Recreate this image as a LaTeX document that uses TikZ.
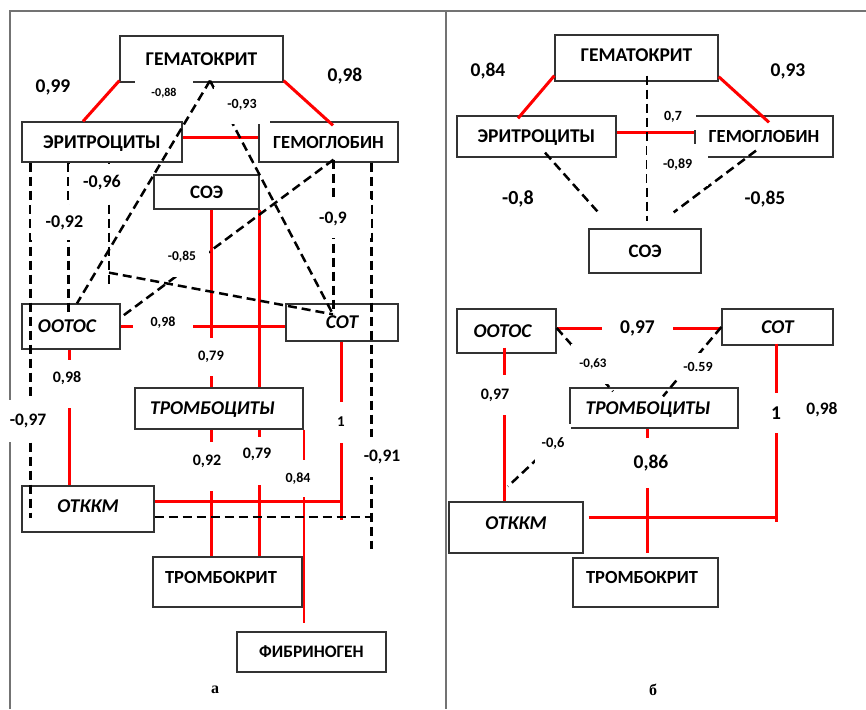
\documentclass[tikz,border=0pt]{standalone}
\usepackage{fontspec}
\setmainfont{Carlito}
\newfontfamily\capfont{Liberation Serif}
\begin{document}
\begin{tikzpicture}[x=1pt,y=-1pt,
  box/.style={draw=black!80,line width=1.3pt,inner sep=0pt,text depth=0pt,font=\bfseries\fontsize{#1}{#1}\selectfont},
  box/.default=19.5,
  ibox/.style={box=#1,font=\bfseries\itshape\fontsize{#1}{#1}\selectfont},
  ibox/.default=19.5,
  rl/.style={red,line width=3pt},
  dl/.style={black,line width=2.5pt,dash pattern=on 9pt off 5pt},
  lbl/.style={fill=white,inner sep=0pt,font=\bfseries\fontsize{#1}{#1}\selectfont},
  lbl/.default=15,
  frame/.style={black!55,line width=1.6pt}]
\useasboundingbox (0,0) rectangle (866,709);
\draw[frame] (10,709) -- (10,11) -- (866,11);
\draw[frame] (446,11) -- (446,709);

\node[box,minimum width=163pt,minimum height=46pt] (gkL) at (201.5,59) {ГЕМАТОКРИТ};
\node[box,minimum width=160pt,minimum height=40pt] (erL) at (102,142) {ЭРИТРОЦИТЫ};
\node[box=18.5,minimum width=139pt,minimum height=40pt] (hbL) at (328.5,142) {ГЕМОГЛОБИН};
\node[box=19,minimum width=105pt,minimum height=34pt] (soeL) at (206.5,192) {СОЭ};
\node[ibox,minimum width=98pt,minimum height=45pt] (ooL) at (71,326.5) {\hspace*{-8pt}ООТОС};
\node[ibox,minimum width=112pt,minimum height=37pt] (soL) at (342,322.5) {СОТ};
\node[ibox,minimum width=168pt,minimum height=41pt] (tbL) at (219,408.5) {\hspace*{-13pt}ТРОМБОЦИТЫ};
\node[ibox,minimum width=132pt,minimum height=46pt,text depth=6pt] (otL) at (88,509) {ОТККМ};
\node[box=18.5,minimum width=149pt,minimum height=50pt,text depth=10pt] (tkL) at (227.5,582) {\hspace*{-13pt}ТРОМБОКРИТ};
\node[box=17.5,minimum width=149pt,minimum height=40pt] (fbL) at (311.5,652) {ФИБРИНОГЕН};

\node[box,minimum width=163pt,minimum height=46pt,text depth=6pt] (gkR) at (636.5,58) {ГЕМАТОКРИТ};
\node[box,minimum width=159pt,minimum height=41pt] (erR) at (536.5,136.5) {ЭРИТРОЦИТЫ};
\node[box=18.5,minimum width=138pt,minimum height=41pt] (hbR) at (764,136.5) {ГЕМОГЛОБИН};
\node[box=19,minimum width=112pt,minimum height=44pt] (soeR) at (645,251) {СОЭ};
\node[ibox,minimum width=99pt,minimum height=44pt] (ooR) at (506.5,331) {\hspace*{-8pt}ООТОС};
\node[ibox,minimum width=111pt,minimum height=36pt] (soR) at (777.5,327) {СОТ};
\node[ibox,minimum width=168pt,minimum height=40pt] (tbR) at (654,408) {\hspace*{-12pt}ТРОМБОЦИТЫ};
\node[ibox,minimum width=134pt,minimum height=51pt,text depth=9pt] (otR) at (516,527.5) {ОТККМ};
\node[box=18.5,minimum width=145pt,minimum height=49pt,text depth=11pt] (tkR) at (645.5,582.5) {\hspace*{-7pt}ТРОМБОКРИТ};

\coordinate (sotFoot) at ([xshift=-1pt]soL.south);
\draw[rl] ([yshift=2pt]gkL.south west) -- ([xshift=-19pt]erL.north);
\draw[rl] ([yshift=2pt]gkL.south east) -- ([xshift=4.5pt,yshift=-4pt]hbL.north);
\draw[rl] ([yshift=5pt]erL.east) -- ([yshift=5pt]hbL.west);
\draw[rl] (ooL.east) -- (ooL.east -| soL.west);
\draw[rl] ([xshift=-2pt]ooL.south) -- ([xshift=-2pt]ooL.south |- otL.north);
\draw[rl] ([xshift=4.5pt]soeL.south) -- ([xshift=4.5pt]soeL.south |- tbL.north);
\draw[rl] (soeL.south east) -- (soeL.south east |- tbL.north);
\draw[rl] ([xshift=-8pt]tbL.south) -- ([xshift=-8pt]tbL.south |- tkL.north);
\draw[rl] ([xshift=40pt]tbL.south) -- ([xshift=40pt]tbL.south |- tkL.north);
\draw[rl,line width=2pt] (tbL.south east) -- ([yshift=8pt]tbL.south east |- fbL.north);
\draw[rl] (sotFoot) -- ++(0,178);
\draw[rl] ([yshift=8pt]otL.east) -- ([yshift=8pt]otL.east -| sotFoot);

\coordinate (sotFootR) at ([xshift=-1.5pt,yshift=2pt]soR.south);
\draw[rl] ([yshift=6pt]gkR.south west) -- ([xshift=-18.5pt,yshift=-3pt]erR.north);
\draw[rl] ([yshift=5pt]gkR.south east) -- ([xshift=5pt,yshift=-7pt]hbR.north);
\draw[rl] ([yshift=4.5pt]erR.east) -- ([yshift=4.5pt]hbR.west);
\draw[rl] ([yshift=3pt]ooR.east) -- ([yshift=3pt]ooR.east -| soR.west);
\draw[rl] ([xshift=-2.5pt,yshift=6pt]ooR.south) -- ([xshift=-2.5pt]ooR.south |- otR.north);
\draw[rl] ([xshift=-7pt]tbR.south) -- ([xshift=-7pt,yshift=4pt]tbR.south |- tkR.north);
\draw[rl] (sotFootR) -- ++(0,178);
\draw[rl,shorten <=5pt] ([yshift=10.5pt]otR.east) -- ([yshift=10.5pt]otR.east -| sotFootR);

\coordinate (gkFootL) at ([xshift=8.5pt,yshift=2pt]gkL.south);
\coordinate (sotTop) at ([xshift=-9pt,yshift=-11pt]soL.north);
\coordinate (hbFootL) at ([xshift=5pt,yshift=3pt]hbL.south);
\coordinate (erBend) at ([xshift=7pt,yshift=-110pt]erL.south);
\coordinate (hbStem) at ([xshift=-27pt]hbL.south east);
\draw[dl] (gkFootL) -- ([xshift=6pt]ooL.north);
\draw[dl] (gkFootL) -- (sotTop);
\draw[dl] (hbFootL) -- ([yshift=9pt]ooL.east);
\draw[dl] (hbFootL) -- ++(0,154);
\draw[dl] ([xshift=7pt]erL.south) -- ++(0,121);
\draw[dl] (erBend) -- (sotTop);
\draw[dl] ([xshift=9pt]erL.south west) -- ++(0,355);
\draw[dl] ([xshift=47pt]erL.south west) -- ++(0,153);
\draw[dl] (hbStem) -- ++(0,386);
\draw[dl] ([yshift=-8pt]otL.east) -- ([yshift=-8pt]otL.east -| hbStem);

\coordinate (gkFootR) at ([xshift=10.5pt,yshift=6pt]gkR.south);
\draw[dl,shorten >=7pt] (gkFootR) -- (gkFootR |- soeR.north);
\draw[dl] ([xshift=8.5pt,yshift=5pt]erR.south) -- ([xshift=9pt,yshift=17pt]soeR.north west);
\draw[dl] ([xshift=-8pt,yshift=7pt]hbR.south) -- ([xshift=-28pt,yshift=16pt]soeR.north east);
\draw[dl] ([yshift=3pt]ooR.east) -- ([xshift=-41pt,yshift=-4pt]tbR.north);
\draw[dl] (soR.west) -- ([xshift=9pt,yshift=-9pt]tbR.north);
\draw[dl] (tbR.south west) -- ([xshift=-8pt,yshift=15pt]otR.north);

\node[lbl=19.5] (l099) at (53,87) {0,99};
\node[lbl=19.5] (l098t) at (345,76) {0,98};
\node[lbl=12,minimum width=58pt,minimum height=26pt] (l088) at (164,93) {-0,88};
\node[lbl=14,minimum width=56pt,minimum height=37pt] (l093) at (242,105) {-0,93};
\node[lbl=18,minimum width=65.4pt,minimum height=39pt] (l096) at (102,183) {-0,96};
\node[lbl=18,minimum width=66pt,minimum height=35pt] (l092) at (64.4,222.5) {-0,92};
\node[lbl=17.5,minimum width=75.6pt,minimum height=39pt] (l09) at (333,218.5) {-0,9};
\node[lbl=13.5,minimum width=54pt,minimum height=40pt] (l085) at (182,257) {-0,85};
\node[lbl=14,minimum width=60pt,minimum height=20pt] (l098h) at (163,323) {0,98};
\node[lbl=16,minimum width=34pt,minimum height=48pt,text depth=14pt] (l098v) at (67,384) {0,98};
\node[lbl=14.5,minimum width=34pt,minimum height=38pt] (l079a) at (211,357) {0,79};
\node[lbl=17.5,minimum width=44pt,minimum height=42pt] (l097) at (28,421) {-0,97};
\node[lbl=15,minimum width=18pt,minimum height=41pt] (l1) at (341,422) {1};
\node[lbl=16,minimum width=40pt,minimum height=49pt,text depth=13pt] (l092b) at (207,466.5) {0,92};
\node[lbl=16,minimum width=36pt,minimum height=48pt,text depth=16pt] (l079b) at (257,461) {0,79};
\node[lbl=14,minimum width=34pt,minimum height=37pt] (l084) at (298,478.5) {0,84};
\node[lbl=17.5,minimum width=44pt,minimum height=40pt] (l091) at (382,457) {-0,91};

\node[lbl=19.5] (r084) at (488,71) {0,84};
\node[lbl=19.5] (r093) at (788,71) {0,93};
\node[lbl=14,minimum width=46pt,minimum height=27pt] (r07) at (673,116.5) {0,7};
\node[lbl=14,minimum width=60.7pt,minimum height=42pt] (r089) at (677.65,165) {-0,89};
\node[lbl=20] (r08) at (518,199) {-0,8};
\node[lbl=19.5] (r085) at (765,199) {-0,85};
\node[lbl=19.5,minimum width=71pt,minimum height=26pt] (r097h) at (637.5,328) {0,97};
\node[lbl=13,minimum width=44pt,minimum height=40pt] (r063) at (593,364) {-0,63};
\node[lbl=14,minimum width=44pt,minimum height=27pt] (r059) at (698,366.5) {-0.59};
\node[lbl=16,minimum width=40pt,minimum height=40pt] (r097v) at (495,395) {0,97};
\node[lbl=19.5,minimum width=22pt,minimum height=40pt] (r1) at (776,413) {1};
\node[lbl=17.5] (r098) at (822,410) {0,98};
\node[lbl=19.5,minimum width=50pt,minimum height=50pt] (r086) at (651,463) {0,86};
\node[lbl=14.5,minimum width=36pt,minimum height=39pt] (r06) at (553,443.5) {-0,6};

\node[font=\capfont\bfseries\fontsize{16}{16}\selectfont] (capA) at (215,690) {а};
\node[font=\capfont\bfseries\fontsize{16}{16}\selectfont] (capB) at (653,690) {б};
\end{tikzpicture}
\end{document}
